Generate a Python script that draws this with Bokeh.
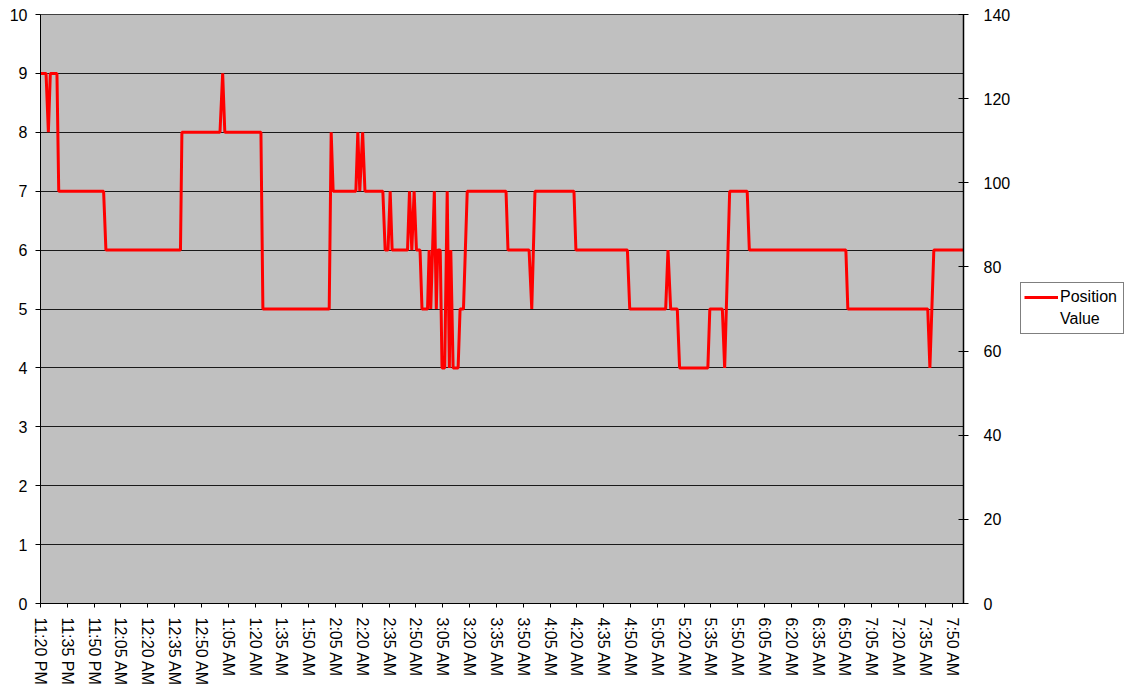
import math
from bokeh.plotting import figure
from bokeh.layouts import row
from bokeh.models import (Range1d, LinearAxis, FixedTicker, Legend, LegendItem)
from bokeh.embed import file_html
from bokeh.resources import INLINE

# ---- data ----
# time of each breakpoint in minutes after 11:20 PM, and the Position value there
minutes_after_2320 = [0, 3.1, 4.4, 5.5, 9.2, 10.2, 35.3, 36.6, 78.3, 79.1,
                      100.4, 101.9, 103.1, 123.3, 124.4, 161.5, 162.6, 163.7, 176.4, 177.5,
                      178.6, 180.2, 181.5, 191.5, 192.8, 194.4, 195.6, 196.7, 205.3, 206.4,
                      207.7, 209.0, 210.3, 212.3, 213.4, 216.5, 217.4, 218.3, 220.3, 221.4,
                      222.2, 223.6, 224.6, 226.1, 227.5, 228.7, 229.5, 230.8, 233.6, 234.7,
                      236.6, 238.7, 260.4, 261.5, 273.3, 274.8, 276.6, 298.4, 299.5, 328.3,
                      329.6, 349.7, 351.0, 352.5, 356.2, 357.5, 373.3, 374.4, 381.4, 382.7,
                      385.5, 395.3, 396.5, 450.5, 451.6, 496.3, 497.5, 499.7, 516.3]
position_values = [9, 9, 8, 9, 9, 7, 7, 6, 6, 8,
                   8, 9, 8, 8, 5, 5, 8, 7, 7, 8,
                   7, 8, 7, 7, 6, 6, 7, 6, 6, 7,
                   6, 7, 6, 6, 5, 5, 6, 5, 7, 5,
                   6, 6, 4, 4, 7, 4, 6, 4, 4, 5,
                   5, 7, 7, 6, 6, 5, 7, 7, 6, 6,
                   5, 5, 6, 5, 5, 4, 4, 5, 5, 4,
                   7, 7, 6, 6, 5, 5, 4, 6, 6]

tick_minutes = [i * 15 for i in range(35)]
tick_labels = ["11:20 PM", "11:35 PM", "11:50 PM", "12:05 AM", "12:20 AM", "12:35 AM",
               "12:50 AM", "1:05 AM", "1:20 AM", "1:35 AM", "1:50 AM", "2:05 AM",
               "2:20 AM", "2:35 AM", "2:50 AM", "3:05 AM", "3:20 AM", "3:35 AM",
               "3:50 AM", "4:05 AM", "4:20 AM", "4:35 AM", "4:50 AM", "5:05 AM",
               "5:20 AM", "5:35 AM", "5:50 AM", "6:05 AM", "6:20 AM", "6:35 AM",
               "6:50 AM", "7:05 AM", "7:20 AM", "7:35 AM", "7:50 AM"]
left_ticks = list(range(0, 11))
right_ticks = list(range(0, 141, 20))
legend_labels = ["Position", "Value"]

FONT = "Liberation Sans"
FS = "16px"
RED = "#FF0000"

W1, H = 1013, 694
p = figure(width=W1, height=H,
           x_range=Range1d(0, 516.3), y_range=Range1d(0, 10),
           output_backend="svg", toolbar_location=None,
           min_border_left=40, min_border_top=14,
           min_border_right=49, min_border_bottom=H - 14 - 589)
p.extra_y_ranges = {"right": Range1d(0, 140)}

p.background_fill_color = "#C0C0C0"
p.border_fill_color = "white"
p.outline_line_color = "#404040"

# grid
p.xgrid.visible = False
p.ygrid.ticker = FixedTicker(ticks=left_ticks)
p.ygrid.grid_line_color = "#1a1a1a"
p.ygrid.grid_line_width = 1

# bottom axis
xa = p.xaxis[0]
xa.ticker = FixedTicker(ticks=tick_minutes)
xa.major_label_overrides = {m: lab for m, lab in zip(tick_minutes, tick_labels)}
xa.major_label_orientation = -math.pi / 2
xa.major_tick_in = 0
xa.major_tick_out = 4
xa.minor_tick_line_color = None
xa.axis_line_color = "black"
xa.major_tick_line_color = "black"
xa.major_label_text_font = FONT
xa.major_label_text_font_size = FS
xa.major_label_text_color = "black"
xa.major_label_standoff = 10

# left axis
ya = p.yaxis[0]
ya.ticker = FixedTicker(ticks=left_ticks)
ya.major_tick_in = 0
ya.major_tick_out = 5
ya.minor_tick_line_color = None
ya.axis_line_color = "black"
ya.major_tick_line_color = "black"
ya.major_label_text_font = FONT
ya.major_label_text_font_size = FS
ya.major_label_text_color = "black"
ya.major_label_standoff = 8

# right axis
ra = LinearAxis(y_range_name="right", ticker=FixedTicker(ticks=right_ticks))
ra.major_tick_in = 5
ra.major_tick_out = 5
ra.minor_tick_line_color = None
ra.axis_line_color = "black"
ra.axis_line_width = 1.5
ra.major_tick_line_color = "black"
ra.major_label_text_font = FONT
ra.major_label_text_font_size = FS
ra.major_label_text_color = "black"
ra.major_label_standoff = 15
p.add_layout(ra, "right")

p.line(minutes_after_2320, position_values, line_color=RED, line_width=3)

# ---- legend panel (separate narrow figure to the right) ----
W2 = 1125 - W1
q = figure(width=W2, height=H, x_range=Range1d(0, 1), y_range=Range1d(0, 1),
           output_backend="svg", toolbar_location=None,
           min_border_left=0, min_border_right=0, min_border_top=0, min_border_bottom=0)
q.axis.visible = False
q.grid.visible = False
q.outline_line_color = None
q.background_fill_color = "white"
q.border_fill_color = "white"
# legend swatch renderers, placed outside the visible range of this panel
sw = q.line([5, 6], [5, 6], line_color=RED, line_width=3)
blank = q.line([5, 6], [5, 6], line_alpha=0)

legend = Legend(items=[LegendItem(label=legend_labels[0], renderers=[sw]),
                       LegendItem(label=legend_labels[1], renderers=[blank])],
                location=(7, 269))
legend.border_line_color = "black"
legend.border_line_width = 1
legend.background_fill_color = "white"
legend.background_fill_alpha = 1
legend.label_text_font = FONT
legend.label_text_font_size = FS
legend.label_text_color = "black"
legend.glyph_width = 34
legend.glyph_height = 22
legend.label_height = 22
legend.label_width = 60
legend.label_standoff = 2
legend.padding = 3
legend.spacing = 0
legend.margin = 0
q.add_layout(legend, "center")

open("out.html", "w").write(file_html(row(p, q), INLINE))
